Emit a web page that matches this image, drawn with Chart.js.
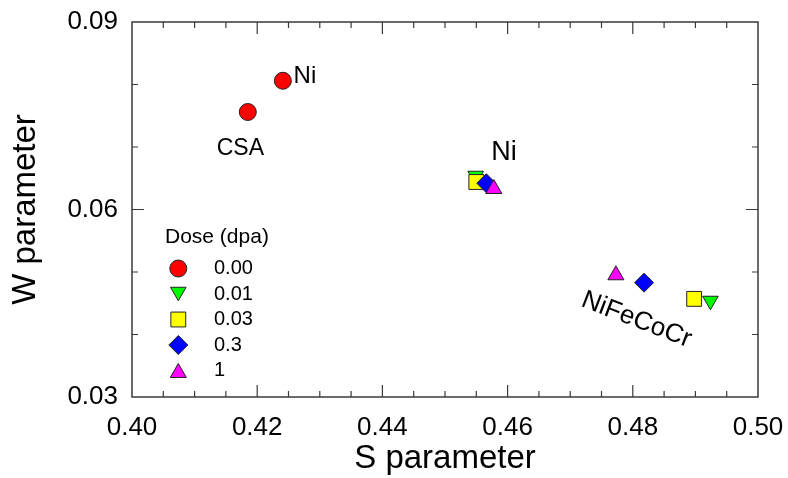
<!DOCTYPE html>
<html>
<head>
<meta charset="utf-8">
<script src="https://cdn.jsdelivr.net/npm/chart.js@4.4.0/dist/chart.umd.min.js"></script>
<style>
    html, body { margin: 0; padding: 0; background: #fff; }
</style>
</head>
<body>
<canvas id="canvas" width="788" height="478"></canvas>
<script>
// Dose levels (dpa), one series each
const doses = ["0.00", "0.01", "0.03", "0.3", "1"];
// pure Ni : S and W per dose
const niS = [0.4241, 0.4549, 0.4550, 0.4566, 0.4578];
const niW = [0.0806, 0.0654, 0.0644, 0.0642, 0.0633];
// NiFeCoCr (CSA) : S and W per dose
const csaS = [0.4185, 0.4924, 0.4898, 0.4818, 0.4773];
const csaW = [0.0756, 0.0454, 0.0457, 0.0483, 0.0495];
// axis ticks
const xTicks = [0.40, 0.42, 0.44, 0.46, 0.48, 0.50];
const yTicks = [0.03, 0.06, 0.09];

// marker looks per dose
const colors = ["#ff0000", "#00ff00", "#ffff00", "#0000ff", "#ff00ff"];
const shapes = ["circle", "triangle", "rect", "rectRot", "triangle"];
const turns = [0, 180, 0, 0, 0];
const radii = [8.5, 9, 10.5, 9.5, 9.3];

// text notes placed in data units
const notes = [
    { text: "Ni", s: 0.42762, w: 0.08135, size: 24, angle: 0 },
    { text: "CSA", s: 0.41731, w: 0.06970, size: 23, angle: 0 },
    { text: "Ni", s: 0.45943, w: 0.06904, size: 27, angle: 0 },
    { text: "NiFeCoCr", s: 0.48058, w: 0.04234, size: 26, angle: 21 },
];

const FONT = "'Liberation Sans', Arial, sans-serif";
const INK = "#3a3a3a";

// frame, inward ticks, notes and legend
const framePlugin = {
    id: "frame",
    beforeDatasetsDraw(chart) {
        const ctx = chart.ctx;
        const a = chart.chartArea;
        const xs = chart.scales.x, ys = chart.scales.y;
        ctx.save();
        ctx.strokeStyle = INK;
        ctx.lineWidth = 1.5;
        ctx.strokeRect(a.left, a.top, a.right - a.left, a.bottom - a.top);
        ctx.lineWidth = 1.2;
        ctx.beginPath();
        for (let k = 1; k < 20; k++) {
            const px = xs.getPixelForValue(0.4 + k * 0.005);
            const len = k % 4 == 0 ? 12 : 6;
            ctx.moveTo(px, a.bottom); ctx.lineTo(px, a.bottom - len);
            ctx.moveTo(px, a.top); ctx.lineTo(px, a.top + len);
        }
        for (let k = 1; k < 6; k++) {
            const py = ys.getPixelForValue(0.03 + k * 0.01);
            const len = k % 3 == 0 ? 12 : 6;
            ctx.moveTo(a.left, py); ctx.lineTo(a.left + len, py);
            ctx.moveTo(a.right, py); ctx.lineTo(a.right - len, py);
        }
        ctx.stroke();
        ctx.restore();
    },
    afterDraw(chart) {
        const ctx = chart.ctx;
        const a = chart.chartArea;
        const xs = chart.scales.x, ys = chart.scales.y;
        ctx.save();
        ctx.fillStyle = "#000";
        ctx.textBaseline = "middle";
        ctx.textAlign = "center";
        notes.forEach((n) => {
            ctx.save();
            ctx.translate(xs.getPixelForValue(n.s), ys.getPixelForValue(n.w));
            ctx.rotate((n.angle * Math.PI) / 180);
            ctx.font = n.size + "px " + FONT;
            ctx.fillText(n.text, 0, 0);
            ctx.restore();
        });

        // legend
        ctx.textAlign = "left";
        ctx.font = "21px " + FONT;
        ctx.fillText("Dose (dpa)", a.left + 33, a.top + 215.5);
        ctx.font = "20px " + FONT;
        doses.forEach((d, i) => {
            const y = a.top + 246.5 + i * 25.5;
            const r = radii[i];
            let dy = 0;
            if (shapes[i] == "triangle") dy = turns[i] ? -r / 4 : r / 4;
            ctx.fillStyle = colors[i];
            ctx.strokeStyle = "#222";
            ctx.lineWidth = 1;
            Chart.helpers.drawPoint(ctx, { pointStyle: shapes[i], rotation: turns[i], radius: r, borderWidth: 1 }, a.left + 46.3, y + dy);
            ctx.fillStyle = "#000";
            ctx.fillText(d, a.left + 82, y);
        });
        ctx.restore();
    },
};

function LoadChart() {
    const datasets = doses.map((d, i) => ({
        label: d,
        data: [
            { x: niS[i], y: niW[i] },
            { x: csaS[i], y: csaW[i] },
        ],
        pointStyle: shapes[i],
        pointRotation: turns[i],
        pointRadius: radii[i],
        pointHoverRadius: radii[i],
        pointBackgroundColor: colors[i],
        pointBorderColor: "#222",
        pointBorderWidth: 1,
        showLine: false,
        order: doses.length - i,
    }));

    const config = {
        type: "scatter",
        data: { datasets: datasets },
        options: {
            responsive: false,
            animation: false,
            layout: { padding: { top: 22, right: 30, left: 0, bottom: 0 } },
            plugins: { legend: { display: false }, tooltip: { enabled: false } },
            scales: {
                x: {
                    type: "linear",
                    min: 0.4,
                    max: 0.5,
                    afterBuildTicks: (s) => { s.ticks = xTicks.map((v) => ({ value: v })); },
                    afterFit: (s) => {
                        s.height = 81;
                        s.paddingLeft = 0;
                        s.paddingRight = 0;
                    },
                    grid: { display: false, drawTicks: false },
                    border: { display: false },
                    ticks: {
                        font: { size: 26, family: FONT },
                        color: "#000",
                        padding: 15,
                        maxRotation: 0,
                        callback: (v) => Number(v).toFixed(2),
                    },
                    title: {
                        display: true,
                        text: "S parameter",
                        font: { size: 33, family: FONT },
                        color: "#000",
                        padding: { top: 0, bottom: -1 },
                    },
                },
                y: {
                    type: "linear",
                    min: 0.03,
                    max: 0.09,
                    afterBuildTicks: (s) => { s.ticks = yTicks.map((v) => ({ value: v })); },
                    afterFit: (s) => {
                        s.width = 132;
                        s.paddingTop = 0;
                        s.paddingBottom = 0;
                    },
                    grid: { display: false, drawTicks: false },
                    border: { display: false },
                    ticks: {
                        font: { size: 26, family: FONT },
                        color: "#000",
                        padding: 14,
                        callback: (v) => Number(v).toFixed(2),
                    },
                    title: {
                        display: true,
                        text: "W parameter",
                        font: { size: 33, family: FONT },
                        color: "#000",
                        padding: { top: 6, bottom: 0 },
                    },
                },
            },
        },
        plugins: [framePlugin],
    };
    const canvas = document.getElementById("canvas").getContext("2d");
    new Chart(canvas, config);
}
LoadChart();
</script>
</body>
</html>
